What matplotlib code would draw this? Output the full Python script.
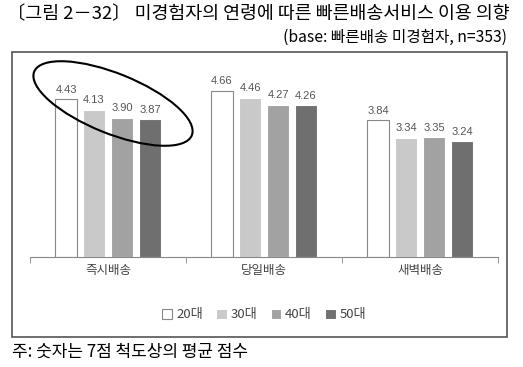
#libraries
import numpy as np
import matplotlib.pyplot as plt
from matplotlib.patches import Rectangle, Ellipse
from matplotlib.transforms import IdentityTransform

plt.rcParams['font.family'] = ['Noto Sans CJK KR', 'DejaVu Sans']

#data
categories = ["즉시배송", "당일배송", "새벽배송"]
ages = ["20대", "30대", "40대", "50대"]
scores = {
    "20대": [4.43, 4.66, 3.84],
    "30대": [4.13, 4.46, 3.34],
    "40대": [3.90, 4.27, 3.35],
    "50대": [3.87, 4.26, 3.24],
}
colors = ["white", "#c9c9c9", "#a2a2a2", "#6f6f6f"]

W, H = 523, 367
fig = plt.figure(figsize=(W / 100, H / 100), dpi=100)

#outer frame box
fig.patches.append(Rectangle((12 / W, 1 - 337 / H), 495 / W, 285 / H,
                             transform=fig.transFigure, fill=False,
                             edgecolor="#555555", linewidth=1.2))

#axes: baseline at y=257, x from 30 to 498
ax = fig.add_axes([30 / W, (H - 257) / H, 468 / W, 178.5 / H])
ax.set_xlim(-0.5, 2.5)
ax.set_ylim(0, 5)

x = np.arange(len(categories))
step = 28 / 156
width = 22 / 156
for i, age in enumerate(ages):
    pos = x + (i - 1.5) * step
    ec = "#888888" if i == 0 else "white"
    bars = ax.bar(pos, scores[age], width=width, color=colors[i],
                  edgecolor=ec, linewidth=0.8, label=age)
    for p, v in zip(pos, scores[age]):
        ax.text(p, v + 0.12, f"{v:.2f}", ha="center", va="bottom",
                fontsize=8, color="#555555", family=["Liberation Sans", "DejaVu Sans"])

for s in ["top", "right", "left"]:
    ax.spines[s].set_visible(False)
ax.spines["bottom"].set_color("#888888")
ax.set_yticks([])
ax.set_xticks([-0.5, 0.5, 1.5, 2.5], minor=True)
ax.tick_params(axis="x", which="minor", length=4, color="#888888")
ax.set_xticks(x)
ax.set_xticklabels(categories, fontsize=9, color="#444444")
ax.tick_params(axis="x", which="major", length=0, pad=5)

#legend
ax.legend(loc="upper center", bbox_to_anchor=(0.5, -0.22), ncol=4, frameon=False,
          fontsize=9.5, handlelength=0.8, handleheight=0.8, handletextpad=0.3,
          columnspacing=1.0, labelcolor="#444444")

#ellipse highlight
fig.patches.append(Ellipse((113, H - 103.5), 170, 60, angle=-22,
                           transform=IdentityTransform(), fill=False,
                           edgecolor="black", linewidth=1.5))

#texts, sized to span the same width as in the reference
renderer = fig.canvas.get_renderer()

def fit_text(xpx, ypx, s, target_w, ha):
    t = fig.text(xpx / W, 1 - ypx / H, s, fontsize=10, va="center", ha=ha, color="black")
    w = t.get_window_extent(renderer).width
    t.set_fontsize(10 * target_w / w)
    return t

fit_text(7, 14, "〔그림 2－32〕 미경험자의 연령에 따른 빠른배송서비스 이용 의향", 503, "left")
fit_text(507, 37, "(base: 빠른배송 미경험자, n=353)", 224, "right")
fit_text(12, 352, "주: 숫자는 7점 척도상의 평균 점수", 236, "left")

plt.savefig("out.png", dpi=100)
